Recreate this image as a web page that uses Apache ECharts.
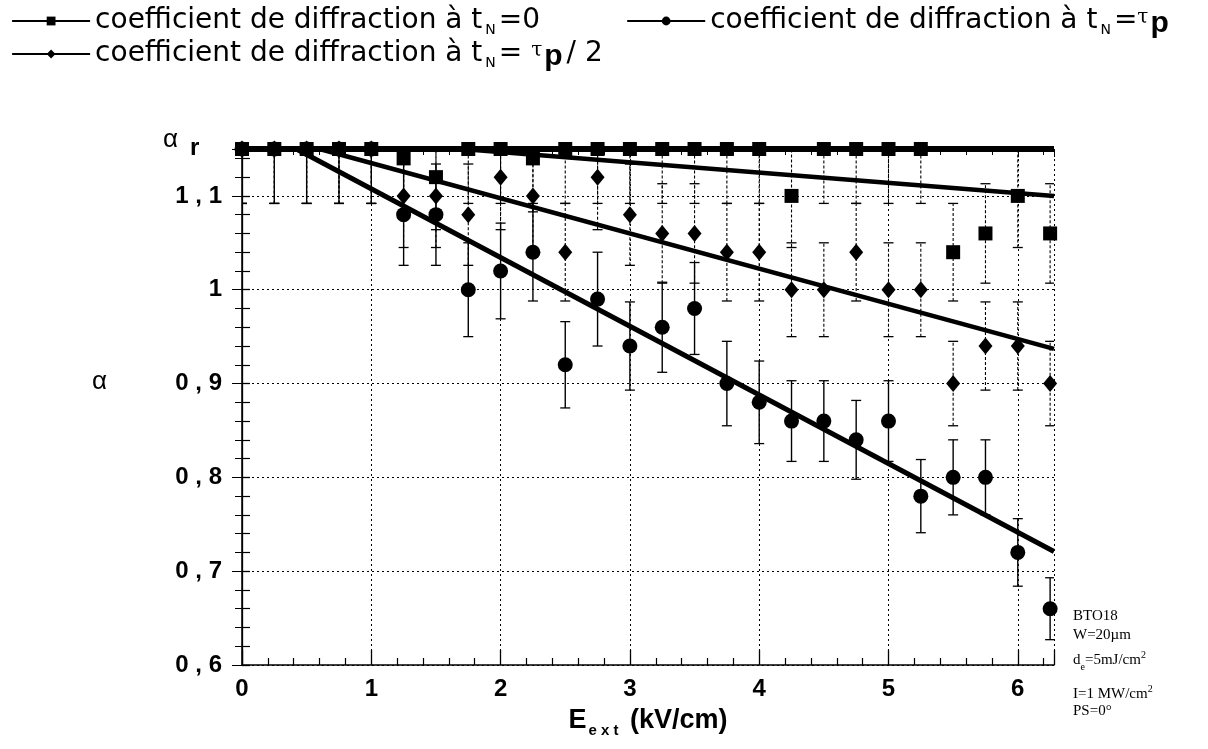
<!DOCTYPE html>
<html><head><meta charset="utf-8">
<script src="https://cdn.jsdelivr.net/npm/echarts@6/dist/echarts.min.js"></script>
<style>html,body{margin:0;padding:0;background:#fff}#c{width:1208px;height:749px}</style>
</head><body><div id="c"></div>
<script>
// ---- data ----
const xValues = [0, 0.25, 0.5, 0.75, 1, 1.25, 1.5, 1.75, 2, 2.25, 2.5, 2.75, 3, 3.25, 3.5, 3.75, 4, 4.25, 4.5, 4.75, 5, 5.25, 5.5, 5.75, 6, 6.25];
// t_N = 0 (squares)
const alphaT0 = [1.15, 1.15, 1.15, 1.15, 1.15, 1.14, 1.12, 1.15, 1.15, 1.14, 1.15, 1.15, 1.15, 1.15, 1.15, 1.15, 1.15, 1.10, 1.15, 1.15, 1.15, 1.15, 1.04, 1.06, 1.10, 1.06];
const errT0 = [0.058, 0.058, 0.058, 0.058, 0.058, 0.057, 0.056, 0.058, 0.058, 0.057, 0.058, 0.058, 0.058, 0.058, 0.058, 0.058, 0.058, 0.055, 0.058, 0.058, 0.058, 0.058, 0.052, 0.053, 0.055, 0.053];
// t_N = tau_p / 2 (diamonds)
const alphaTHalf = [1.15, 1.15, 1.15, 1.15, 1.15, 1.10, 1.10, 1.08, 1.12, 1.10, 1.04, 1.12, 1.08, 1.06, 1.06, 1.04, 1.04, 1.00, 1.00, 1.04, 1.00, 1.00, 0.90, 0.94, 0.94, 0.90];
const errTHalf = [0.058, 0.058, 0.058, 0.058, 0.058, 0.055, 0.055, 0.054, 0.056, 0.055, 0.052, 0.056, 0.054, 0.053, 0.053, 0.052, 0.052, 0.050, 0.050, 0.052, 0.050, 0.050, 0.045, 0.047, 0.047, 0.045];
// t_N = tau_p (circles)
const alphaTp = [1.15, 1.15, 1.15, 1.15, 1.15, 1.08, 1.08, 1.00, 1.02, 1.04, 0.92, 0.99, 0.94, 0.96, 0.98, 0.90, 0.88, 0.86, 0.86, 0.84, 0.86, 0.78, 0.80, 0.80, 0.72, 0.66];
const errTp = [0.058, 0.058, 0.058, 0.058, 0.058, 0.054, 0.054, 0.050, 0.051, 0.052, 0.046, 0.050, 0.047, 0.048, 0.049, 0.045, 0.044, 0.043, 0.043, 0.042, 0.043, 0.039, 0.040, 0.040, 0.036, 0.033];
// fitted lines
const fitT0 = [[1.7, 1.15], [6.28, 1.10]];
const fitTHalf = [[0.6, 1.15], [6.28, 0.937]];
const fitTp = [[0.42, 1.15], [6.28, 0.721]];
const alphaRLine = [[0, 1.15], [6.28, 1.15]];
const yTickValues = [0.6, 0.7, 0.8, 0.9, 1.0, 1.1];
const yTickLabels = ['0 , 6', '0 , 7', '0 , 8', '0 , 9', '1', '1 , 1'];
const xTickLabels = ['0', '1', '2', '3', '4', '5', '6'];
const names = ['coefficient de diffraction à t_N=0', 'coefficient de diffraction à t_N=τp', 'coefficient de diffraction à t_N=τp/2'];

// ---- build ----
const pts = (ys) => xValues.map((x, i) => [x, ys[i]]);
const bars = (ys, es) => xValues.map((x, i) => [x, ys[i] - es[i], ys[i] + es[i]]);

function errorSeries(name, data, dashed, width) {
  return {
    type: 'custom', name: name, data: data, clip: true, silent: true, z: 2,
    encode: { x: 0, y: [1, 2] },
    renderItem: function (params, api) {
      const x = api.value(0);
      const lo = api.coord([x, api.value(1)]);
      const hi = api.coord([x, api.value(2)]);
      const hw = 5;
      const st = { stroke: '#000', lineWidth: width, lineDash: dashed ? [3, 2] : null };
      return {
        type: 'group',
        children: [
          { type: 'line', shape: { x1: lo[0], y1: lo[1], x2: hi[0], y2: hi[1] }, style: st },
          { type: 'line', shape: { x1: lo[0] - hw, y1: lo[1], x2: lo[0] + hw, y2: lo[1] }, style: { stroke: '#000', lineWidth: 1.3 } },
          { type: 'line', shape: { x1: hi[0] - hw, y1: hi[1], x2: hi[0] + hw, y2: hi[1] }, style: { stroke: '#000', lineWidth: 1.3 } }
        ]
      };
    }
  };
}

const legendFmt = function (name) {
  if (name === names[0]) return 'coefficient de diffraction à t{s|N}=0';
  if (name === names[1]) return 'coefficient de diffraction à t{s|N}={tau|τ}{p|p}';
  return 'coefficient de diffraction à t{s|N}= {tau|τ}{p|p}{n|/ 2}';
};
const LF = 'DejaVu Sans';
const legendText = {
  fontSize: 28, fontFamily: LF, fontWeight: 'normal', color: '#000',
  rich: {
    s: { fontSize: 14, fontFamily: LF, padding: [18, 3, 0, 3] },
    tau: { fontSize: 20, fontFamily: 'DejaVu Serif', padding: [0, 2, 6, 0] },
    p: { fontSize: 30, fontWeight: 'bold', fontFamily: 'Liberation Sans', padding: [6, 0, 0, 0] },
    n: { fontSize: 28, fontFamily: LF, padding: [0, 0, 0, 4] }
  }
};

const tickFont = { fontSize: 24, fontWeight: 'bold', fontFamily: 'Liberation Sans', color: '#000' };
const axLine = { show: true, lineStyle: { color: '#000', width: 1.5 } };

const option = {
  animation: false,
  backgroundColor: '#fff',
  legend: [
    { data: [names[0], names[1]], left: 6, top: 2, itemWidth: 78, itemHeight: 11, itemGap: 86, orient: 'horizontal',
      formatter: legendFmt, textStyle: legendText, lineStyle: { width: 2.2 }, selectedMode: false },
    { data: [names[2]], left: 6, top: 35, itemWidth: 78, itemHeight: 11, orient: 'horizontal',
      formatter: legendFmt, textStyle: legendText, lineStyle: { width: 2.2 }, selectedMode: false }
  ],
  grid: { left: 242, right: 154, top: 149, bottom: 84 },
  xAxis: [
    { type: 'value', min: 0, max: 6.28, interval: 1, position: 'bottom',
      axisLine: axLine,
      axisTick: { show: true, inside: true, length: 15, lineStyle: { color: '#000', width: 1.3 } },
      minorTick: { show: true, splitNumber: 5, length: 7, lineStyle: { color: '#000', width: 1.2 } },
      axisLabel: Object.assign({ margin: 12, formatter: v => (Math.abs(v - Math.round(v)) < 1e-6 ? xTickLabels[Math.round(v)] : '') }, tickFont),
      splitLine: { show: true, lineStyle: { color: '#000', type: [2, 3], width: 1 } },
      name: 'E{sub|e x t} (kV/cm)', nameLocation: 'middle', nameGap: 38,
      nameTextStyle: { fontSize: 27, fontWeight: 'bold', fontFamily: 'Liberation Sans', color: '#000',
        rich: { sub: { fontSize: 15, fontWeight: 'bold', fontFamily: 'Liberation Sans', padding: [20, 4, 0, 2] } } }
    },
    { type: 'value', min: 0, max: 6.28, interval: 1, position: 'top',
      axisLine: { show: false },
      axisTick: { show: true, inside: true, length: 8, lineStyle: { color: '#000' } },
      minorTick: { show: true, splitNumber: 5, length: 6, lineStyle: { color: '#000' } },
      axisLabel: { show: false }, splitLine: { show: false } }
  ],
  yAxis: [
    { type: 'value', min: 0.6, max: 1.15, interval: 0.1, position: 'left',
      axisLine: axLine,
      axisTick: { show: true, inside: true, length: 8, lineStyle: { color: '#000', width: 1.3 } },
      minorTick: { show: true, splitNumber: 5, length: 8, lineStyle: { color: '#000', width: 1.2 } },
      axisLabel: Object.assign({ margin: 20, formatter: v => {
        const i = yTickValues.findIndex(t => Math.abs(t - v) < 1e-6);
        return i >= 0 ? yTickLabels[i] : '';
      } }, tickFont),
      splitLine: { show: true, lineStyle: { color: '#000', type: [2, 3], width: 1 } }
    },
    { type: 'value', min: 0.6, max: 1.15, interval: 0.1, position: 'right',
      axisLine: { show: true, lineStyle: { color: '#000', width: 1.3 } },
      axisTick: { show: true, inside: true, length: 10, lineStyle: { color: '#000' } },
      minorTick: { show: true, splitNumber: 5, length: 7, lineStyle: { color: '#000' } },
      axisLabel: { show: false }, splitLine: { show: false } }
  ],
  graphic: [
    { type: 'text', left: 163, top: 127, style: { text: 'α', font: '26px "Liberation Sans"', fill: '#000' } },
    { type: 'text', left: 190, top: 136, style: { text: 'r', font: 'bold 24px "Liberation Sans"', fill: '#000' } },
    { type: 'text', left: 92, top: 369, style: { text: 'α', font: '26px "Liberation Sans"', fill: '#000' } },
    { type: 'text', left: 1073, top: 609, style: { text: 'BTO18', font: '15px "Liberation Serif"', fill: '#000' } },
    { type: 'text', left: 1073, top: 628, style: { text: 'W=20µm', font: '15px "Liberation Serif"', fill: '#000' } },
    { type: 'text', left: 1073, top: 650, style: { text: 'd{s|e}=5mJ/cm{u|2}', font: '15px "Liberation Serif"', fill: '#000',
        rich: { s: { fontSize: 10, fontFamily: 'Liberation Serif', padding: [14, 0, 0, 0] }, u: { fontSize: 10, fontFamily: 'Liberation Serif', padding: [0, 0, 10, 0] } } } },
    { type: 'text', left: 1073, top: 684, style: { text: 'I=1 MW/cm{u|2}', font: '15px "Liberation Serif"', fill: '#000',
        rich: { u: { fontSize: 10, fontFamily: 'Liberation Serif', padding: [0, 0, 10, 0] } } } },
    { type: 'text', left: 1073, top: 704, style: { text: 'PS=0°', font: '15px "Liberation Serif"', fill: '#000' } }
  ],
  series: [
    { type: 'line', name: names[0], data: fitT0, symbol: 'rect', showSymbol: false, lineStyle: { color: '#000', width: 4.5 }, itemStyle: { color: '#000' }, z: 4, silent: true },
    { type: 'line', name: names[1], data: fitTp, symbol: 'circle', showSymbol: false, lineStyle: { color: '#000', width: 5 }, itemStyle: { color: '#000' }, z: 4, silent: true },
    { type: 'line', name: names[2], data: fitTHalf, symbol: 'diamond', showSymbol: false, lineStyle: { color: '#000', width: 4.5 }, itemStyle: { color: '#000' }, z: 4, silent: true },
    { type: 'line', name: 'alpha_r', data: alphaRLine, showSymbol: false, symbol: 'none', lineStyle: { color: '#000', width: 6 }, z: 5, silent: true },
    errorSeries(names[0], bars(alphaT0, errT0), true, 1.1),
    errorSeries(names[2], bars(alphaTHalf, errTHalf), true, 1.1),
    errorSeries(names[1], bars(alphaTp, errTp), false, 1.4),
    { type: 'scatter', name: names[0], data: pts(alphaT0), symbol: 'rect', symbolSize: 14, itemStyle: { color: '#000', opacity: 1 }, clip: false, z: 6 },
    { type: 'scatter', name: names[2], data: pts(alphaTHalf), symbol: 'diamond', symbolSize: [14, 17], itemStyle: { color: '#000', opacity: 1 }, clip: false, z: 6 },
    { type: 'scatter', name: names[1], data: pts(alphaTp), symbol: 'circle', symbolSize: 15, itemStyle: { color: '#000', opacity: 1 }, clip: false, z: 6 }
  ]
};
const chart = echarts.init(document.getElementById('c'), null, { renderer: 'canvas' });
chart.setOption(option);
</script>
</body></html>
